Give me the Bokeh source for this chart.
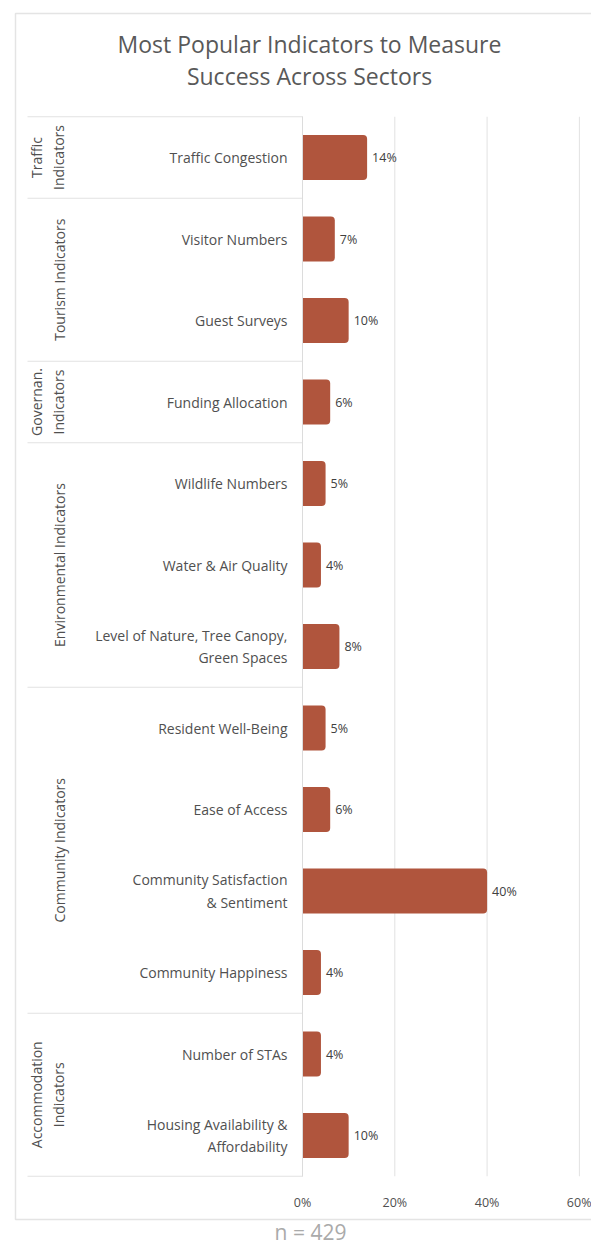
import math
from bokeh.plotting import figure
from bokeh.models import Range1d, FixedTicker
from bokeh.core.properties import value
from bokeh.embed import file_html
from bokeh.resources import INLINE

# ---------------- data ----------------
title_lines = ["Most Popular Indicators to Measure", "Success Across Sectors"]
indicators = [
    "Traffic Congestion",
    "Visitor Numbers",
    "Guest Surveys",
    "Funding Allocation",
    "Wildlife Numbers",
    "Water & Air Quality",
    "Level of Nature, Tree Canopy,\nGreen Spaces",
    "Resident Well-Being",
    "Ease of Access",
    "Community Satisfaction\n& Sentiment",
    "Community Happiness",
    "Number of STAs",
    "Housing Availability &\nAffordability",
]
shares = [14, 7, 10, 6, 5, 4, 8, 5, 6, 40, 4, 4, 10]
groups = [
    "Traffic\nIndicators",
    "Tourism Indicators",
    "Governan.\nIndicators",
    "Environmental Indicators",
    "Community Indicators",
    "Accommodation\nIndicators",
]
group_sizes = [1, 2, 1, 3, 4, 2]
x_ticks = [0, 20, 40, 60]
tick_labels = ["0%", "20%", "40%", "60%"]
n_note = "n = 429"

# ---------------- layout constants (pixels) ----------------
W, H = 591, 1245
X0_PX = 302.0          # pixel of 0 %
PX_PER_PCT = 4.615     # pixels per percentage point
ROW0_PX = 157.0        # pixel centre of first row
ROW_PX = 81.5          # row pitch


def dx(px):
    return (px - X0_PX) / PX_PER_PCT


def dy(py):
    return (py - ROW0_PX) / ROW_PX


FONT = value("Open Sans")
n = len(indicators)
idx = list(range(n))

p = figure(
    width=W, height=H,
    x_range=Range1d(dx(0), dx(W)),
    y_range=Range1d(dy(H), dy(0)),
    output_backend="svg", toolbar_location=None,
    min_border=0, min_border_left=0, min_border_right=0,
    min_border_top=0, min_border_bottom=0,
)
p.title.visible = False
p.outline_line_color = None
p.background_fill_color = "white"
p.border_fill_color = "white"
p.xgrid.visible = False
p.ygrid.visible = False

# outer card border
p.quad(left=[dx(15)], right=[dx(650)], top=[dy(13)], bottom=[dy(1219)],
       fill_color=None, line_color="#e4e4e4", line_width=1.5)

# vertical grid lines from tick list
p.segment(x0=x_ticks, x1=x_ticks, y0=[-0.5] * len(x_ticks), y1=[n - 0.5] * len(x_ticks),
          line_color="#e2e2e2", line_width=1)

# group separators
bounds = [0]
for s in group_sizes:
    bounds.append(bounds[-1] + s)
sep_y = [b - 0.5 for b in bounds]
p.segment(x0=[dx(27)] * len(sep_y), x1=[0] * len(sep_y), y0=sep_y, y1=sep_y,
          line_color="#e2e2e2", line_width=1)

# bars
p.hbar(y=idx, left=0, right=shares, height=0.55, fill_color="#B0553D",
       line_color=None, border_radius=(0, 4, 4, 0))

# value labels
p.text(x=shares, y=idx, text=[f"{v}%" for v in shares], x_offset=5,
       text_baseline="middle", text_align="left", text_font=FONT,
       text_font_size="12.5px", text_color="#404040")

# group labels (rotated)
centers = [bounds[i] + (group_sizes[i] - 1) / 2 for i in range(len(groups))]
p.text(x=[dx(68)] * len(groups), y=centers, text=groups, angle=math.pi / 2,
       text_align="center", text_baseline="bottom", text_font=FONT,
       text_font_size="14px", text_color="#505050", text_line_height=1.2)

# title
p.text(x=[dx(309)] * 2, y=[dy(43), dy(75)], text=title_lines,
       text_align="center", text_baseline="middle", text_font=FONT,
       text_font_size="23px", text_color="#595959")

# footnote
p.text(x=[dx(310)], y=[dy(1231)], text=[n_note], text_align="center",
       text_baseline="middle", text_font=FONT, text_font_size="21px",
       text_color="#aaaaaa")

# x axis
xa = p.xaxis[0]
xa.ticker = FixedTicker(ticks=x_ticks)
xa.major_label_overrides = dict(zip(x_ticks, tick_labels))
xa.fixed_location = n - 0.5
xa.axis_line_color = None
xa.major_tick_line_color = None
xa.minor_tick_line_color = None
xa.major_label_standoff = 12
xa.major_label_text_font = "Open Sans"
xa.major_label_text_font_size = "12.5px"
xa.major_label_text_color = "#505050"

# y axis with indicator names
ya = p.yaxis[0]
ya.ticker = FixedTicker(ticks=idx)
ya.major_label_overrides = dict(zip(idx, indicators))
ya.fixed_location = 0
ya.bounds = (-0.5, n - 0.5)
ya.axis_line_color = "#dcdcdc"
ya.axis_line_width = 1
ya.major_tick_line_color = None
ya.minor_tick_line_color = None
ya.major_label_standoff = 9
ya.major_label_text_font = "Open Sans"
ya.major_label_text_font_size = "14px"
ya.major_label_text_color = "#505050"
ya.major_label_text_line_height = 1.2

open("out.html", "w").write(file_html(p, INLINE))
